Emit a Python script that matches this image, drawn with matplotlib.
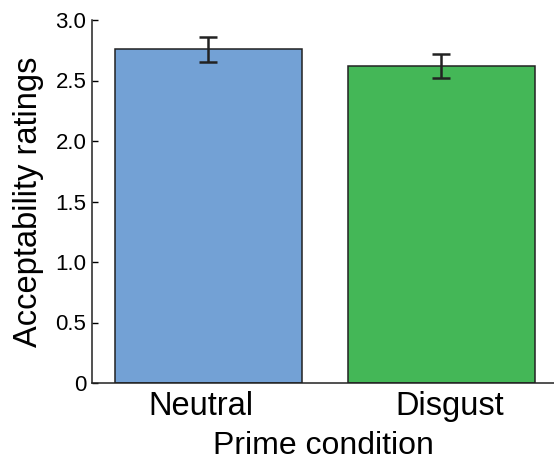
import matplotlib
matplotlib.use("Agg")
import matplotlib.pyplot as plt
import matplotlib.transforms as mtransforms
import numpy as np

plt.rcParams['font.family'] = ['Liberation Sans', 'DejaVu Sans']

conditions = ["Neutral", "Disgust"]
ratings = [2.757, 2.617]
errors = [0.10, 0.10]
colors = ["#73A1D5", "#44B757"]
yticks = [0, 0.5, 1.0, 1.5, 2.0, 2.5, 3.0]
ytick_labels = ["0", "0.5", "1.0", "1.5", "2.0", "2.5", "3.0"]

fig = plt.figure(figsize=(5.54, 4.62), dpi=100)
ax = fig.add_axes([92/554, 1 - 383/462, 462/554, 363/462])

x = np.arange(len(conditions))
ax.bar(x, ratings, width=0.8, color=colors, edgecolor="#222222", linewidth=1.1, zorder=2)
ax.errorbar(x, ratings, yerr=errors, fmt="none", ecolor="#222222",
            elinewidth=1.8, capsize=6.5, capthick=1.8, zorder=3)

ax.set_xlim(-0.5, 1.483)
ax.set_ylim(0, 3.0)
ax.set_yticks(yticks)
ax.set_yticklabels(ytick_labels)
ax.set_xticks(x)
ax.set_xticklabels(conditions, fontsize=23.5)
ax.tick_params(axis="y", direction="in", length=4, width=1, labelsize=16, pad=4)
ax.tick_params(axis="x", length=0, pad=6)

# labels in the original sit a little off the bar centres
for lab, dx in zip(ax.get_xticklabels(), [-8, 8]):
    lab.set_transform(lab.get_transform() + mtransforms.ScaledTranslation(dx / 100, 0, fig.dpi_scale_trans))

for s in ["top", "right"]:
    ax.spines[s].set_visible(False)
for s in ["left", "bottom"]:
    ax.spines[s].set_linewidth(1.1)
    ax.spines[s].set_color("#222222")

ax.set_xlabel("Prime condition", fontsize=23, labelpad=6.5)
ax.set_ylabel("Acceptability ratings", fontsize=23.5, labelpad=8)

fig.savefig("out.png", dpi=100)
